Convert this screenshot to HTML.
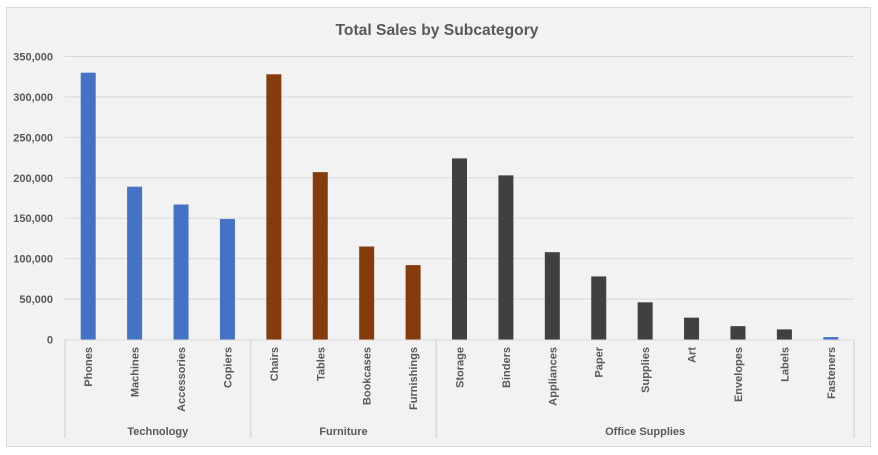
<!DOCTYPE html>
<html><head><meta charset="utf-8"><style>
html,body{margin:0;padding:0;background:#fff;}
svg{display:block;font-family:"Liberation Sans",sans-serif;}
</style></head><body>
<svg id="chart" width="878" height="455" viewBox="0 0 878 455">
<rect x="6.5" y="7.5" width="864" height="439" fill="#f2f2f2" stroke="#d9d9d9"/>
<text x="437" y="35" text-anchor="middle" font-size="16" font-weight="bold" fill="#595959" textLength="203" lengthAdjust="spacingAndGlyphs">Total Sales by Subcategory</text>
<g id="grid"></g><g id="bars"></g><g id="xaxis"></g>
</svg>
<script>
const categories=["Phones","Machines","Accessories","Copiers","Chairs","Tables","Bookcases","Furnishings","Storage","Binders","Appliances","Paper","Supplies","Art","Envelopes","Labels","Fasteners"];
const groups=["Technology","Technology","Technology","Technology","Furniture","Furniture","Furniture","Furniture","Office Supplies","Office Supplies","Office Supplies","Office Supplies","Office Supplies","Office Supplies","Office Supplies","Office Supplies","Office Supplies"];
const sales=[330000,189000,167000,149000,328000,207000,115000,92000,224000,203000,108000,78000,46000,27000,16500,12500,3000];
const yTicks=[0,50000,100000,150000,200000,250000,300000,350000];
const yTickLabels=["0","50,000","100,000","150,000","200,000","250,000","300,000","350,000"];
const NS="http://www.w3.org/2000/svg";
const X0=65,X1=854,Y0=339.5,Ytop=56.5,YMAX=350000;
const slot=(X1-X0)/categories.length;
const y=v=>Y0-(v/YMAX)*(Y0-Ytop);
const xc=i=>X0+slot*(i+0.5);
function mk(tag,attrs,parent,text){const e=document.createElementNS(NS,tag);for(const k in attrs)e.setAttribute(k,attrs[k]);if(text!==undefined)e.textContent=text;parent.appendChild(e);return e;}
const grid=document.getElementById('grid'),bars=document.getElementById('bars'),xa=document.getElementById('xaxis');
yTicks.forEach((t,i)=>{
 if(t>0){const l=mk('line',{x1:X0,x2:X1,y1:y(t),y2:y(t),stroke:'#d9d9d9','stroke-width':1},grid);
 
 }
 const tx=mk('text',{x:53,y:y(t)+4,'text-anchor':'end','font-size':11,'font-weight':'bold',fill:'#595959'},grid,yTickLabels[i]);
 
 
});
const colorFor={"Technology":"#4472c4","Furniture":"#843c0c","Office Supplies":"#404040"};
sales.forEach((v,i)=>{
 let c=colorFor[groups[i]]; if(categories[i]==="Fasteners")c="#4472c4";
 const r=mk('rect',{x:xc(i)-7.5,y:y(v),width:15,height:Y0-y(v),fill:c},bars);
 
 
 const t=mk('text',{transform:`translate(${xc(i)+4},347) rotate(-90)`,'text-anchor':'end','font-size':11,'font-weight':'bold',fill:'#595959'},xa,categories[i]);
 
 
});
const axl=mk('line',{x1:X0,x2:X1,y1:Y0+0.5,y2:Y0+0.5,stroke:'#d9d9d9','stroke-width':1},xa);


// group dividers
let bounds=[0];for(let i=1;i<groups.length;i++)if(groups[i]!==groups[i-1])bounds.push(i);bounds.push(groups.length);
bounds.forEach(b=>{const d=mk('line',{x1:X0+slot*b,x2:X0+slot*b,y1:Y0,y2:438,stroke:'#d9d9d9','stroke-width':1.5},xa);
 
 });
for(let k=0;k<bounds.length-1;k++){
 const cx=X0+slot*(bounds[k]+bounds[k+1])/2;
 const g=mk('text',{x:cx,y:435,'text-anchor':'middle','font-size':11,'font-weight':'bold',fill:'#595959'},xa,groups[bounds[k]]);
 
 
}
</script>
</body></html>
